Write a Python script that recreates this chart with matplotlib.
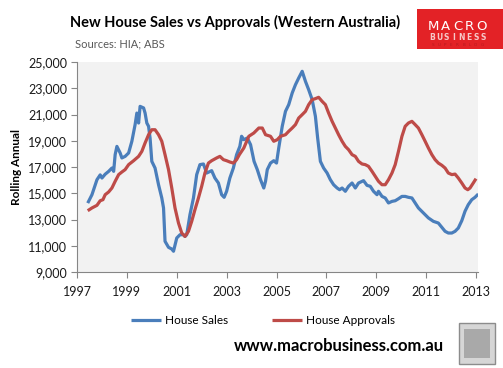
import matplotlib
matplotlib.use("Agg")
import matplotlib.pyplot as plt
from matplotlib.patches import Rectangle

plt.rcParams['font.family'] = ['Lato', 'DejaVu Sans']

# ---- data ----
sales_x = [1997.43, 1997.6, 1997.8, 1997.93, 1998.0, 1998.13, 1998.27, 1998.4, 1998.47, 1998.53, 1998.6,
           1998.73, 1998.8, 1998.93, 1999.07, 1999.2, 1999.33, 1999.4, 1999.47, 1999.53, 1999.67, 1999.73,
           1999.8, 1999.87, 1999.93, 2000.0, 2000.13, 2000.27, 2000.4, 2000.47, 2000.53, 2000.67, 2000.8,
           2000.87, 2001.0, 2001.13, 2001.27, 2001.33, 2001.4, 2001.53, 2001.67, 2001.8, 2001.93, 2002.07,
           2002.2, 2002.27, 2002.4, 2002.53, 2002.67, 2002.8, 2002.9, 2003.0, 2003.13, 2003.27, 2003.4,
           2003.53, 2003.6, 2003.69, 2003.83, 2003.96, 2004.1, 2004.23, 2004.36, 2004.49, 2004.56, 2004.63,
           2004.76, 2004.89, 2005.0, 2005.09, 2005.23, 2005.36, 2005.49, 2005.63, 2005.76, 2005.89, 2006.03,
           2006.16, 2006.29, 2006.43, 2006.56, 2006.65, 2006.76, 2006.89, 2007.03, 2007.16, 2007.29, 2007.43,
           2007.53, 2007.63, 2007.76, 2007.89, 2008.03, 2008.16, 2008.29, 2008.49, 2008.63, 2008.76, 2008.89,
           2009.03, 2009.09, 2009.23, 2009.36, 2009.49, 2009.63, 2009.76, 2009.89, 2010.03, 2010.16, 2010.29,
           2010.43, 2010.56, 2010.69, 2010.89, 2011.09, 2011.29, 2011.49, 2011.63, 2011.76, 2011.89, 2012.03,
           2012.16, 2012.29, 2012.43, 2012.56, 2012.69, 2012.83, 2012.96, 2013.09]
sales_y = [14250, 14890, 16030, 16400, 16160, 16450, 16670, 16920, 16670, 17940, 18570,
           18070, 17690, 17810, 18070, 18960, 20230, 21110, 20350, 21620, 21500, 21110,
           20350, 20100, 19210, 17430, 16920, 15650, 14640, 13880, 11340, 10880, 10750,
           10580, 11590, 11840, 11840, 11710, 11840, 13370, 14640, 16420, 17180, 17230,
           16540, 16600, 16720, 16160, 15780, 14890, 14690, 15150, 16160, 16920, 17940,
           18570, 19340, 19080, 19210, 18700, 17430, 16800, 16030, 15400, 15910, 16800,
           17300, 17480, 17300, 18450, 20100, 21240, 21750, 22640, 23270, 23780, 24290,
           23530, 22890, 22130, 20860, 19210, 17430, 16920, 16540, 16030, 15650, 15400,
           15270, 15400, 15150, 15530, 15780, 15400, 15780, 15960, 15600, 15530, 15150,
           14890, 15150, 14760, 14640, 14260, 14380, 14430, 14580, 14760, 14760, 14690,
           14640, 14260, 13880, 13500, 13120, 12860, 12730, 12400, 12100, 11970, 11970,
           12100, 12350, 12910, 13630, 14130, 14510, 14690, 14940]

appr_x = [1997.43, 1997.6, 1997.8, 1997.93, 1998.04, 1998.13, 1998.27, 1998.4, 1998.53, 1998.67, 1998.8,
          1998.93, 1999.07, 1999.27, 1999.47, 1999.6, 1999.73, 1999.87, 2000.0, 2000.13, 2000.27, 2000.4,
          2000.53, 2000.67, 2000.8, 2000.93, 2001.07, 2001.2, 2001.33, 2001.47, 2001.6, 2001.73, 2001.87,
          2002.0, 2002.13, 2002.27, 2002.4, 2002.6, 2002.73, 2002.87, 2003.0, 2003.13, 2003.27, 2003.4,
          2003.51, 2003.69, 2003.89, 2004.09, 2004.29, 2004.43, 2004.56, 2004.76, 2004.89, 2005.03, 2005.16,
          2005.36, 2005.49, 2005.63, 2005.76, 2005.89, 2006.03, 2006.16, 2006.29, 2006.43, 2006.56, 2006.69,
          2006.83, 2006.96, 2007.09, 2007.23, 2007.36, 2007.49, 2007.63, 2007.76, 2007.89, 2008.03, 2008.16,
          2008.29, 2008.43, 2008.56, 2008.69, 2008.83, 2008.96, 2009.09, 2009.23, 2009.36, 2009.49, 2009.63,
          2009.76, 2009.89, 2010.03, 2010.16, 2010.29, 2010.43, 2010.56, 2010.69, 2010.83, 2010.96, 2011.09,
          2011.23, 2011.36, 2011.49, 2011.63, 2011.76, 2011.89, 2012.03, 2012.16, 2012.29, 2012.43, 2012.56,
          2012.67, 2012.76, 2012.89, 2013.0]
appr_y = [13670, 13880, 14080, 14430, 14510, 14890, 15100, 15400, 15910, 16420, 16620,
          16800, 17180, 17480, 17810, 18190, 18830, 19460, 19840, 19840, 19460, 18960,
          17940, 16800, 15400, 13880, 12730, 11970, 11710, 12100, 12860, 13750, 14640,
          15530, 16540, 17300, 17480, 17690, 17810, 17560, 17480, 17380, 17300, 17560,
          17940, 18450, 19340, 19590, 19970, 19970, 19460, 19340, 18960, 19080, 19340,
          19460, 19720, 19970, 20230, 20730, 20990, 21240, 21750, 22130, 22210, 22310,
          22000, 21750, 21110, 20480, 19970, 19460, 18960, 18570, 18320, 17940, 17810,
          17430, 17230, 17180, 17050, 16670, 16290, 15910, 15650, 15650, 16030, 16540,
          17180, 18190, 19340, 20100, 20350, 20480, 20230, 19970, 19460, 18960, 18450,
          17940, 17560, 17300, 17130, 16920, 16540, 16420, 16460, 16160, 15780, 15400,
          15270, 15400, 15780, 16110]

year_ticks = [1997, 1999, 2001, 2003, 2005, 2007, 2009, 2011, 2013]
value_ticks = [9000, 11000, 13000, 15000, 17000, 19000, 21000, 23000, 25000]

W, H = 503, 368
fig = plt.figure(figsize=(W / 100, H / 100), dpi=100)
fig.patch.set_facecolor('white')

ax = fig.add_axes([77 / W, 1 - 272 / H, (478 - 77) / W, (272 - 62) / H])
ax.set_facecolor('#F2F2F2')

blue = '#4A7EBB'
red = '#BE4B48'
ax.plot(sales_x, sales_y, color=blue, lw=2.3, solid_capstyle='butt', label='House Sales')
ax.plot(appr_x, appr_y, color=red, lw=2.3, solid_capstyle='butt', label='House Approvals')

ax.set_xlim(1997, 2013.08)
ax.set_ylim(9000, 25000)
ax.set_xticks(year_ticks)
ax.set_xticklabels([str(y) for y in year_ticks])
ax.set_yticks(value_ticks)
ax.set_yticklabels([f"{v:,}" for v in value_ticks])

for s in ['top', 'right']:
    ax.spines[s].set_visible(False)
for s in ['left', 'bottom']:
    ax.spines[s].set_color('#868686')
    ax.spines[s].set_linewidth(0.8)
ax.tick_params(axis='both', colors='#868686', labelcolor='#1a1a1a', labelsize=9, length=4, width=0.8)
ax.tick_params(axis='x', pad=6)
ax.tick_params(axis='y', pad=3)

fig.text(17 / W, 1 - 167 / H, 'Rolling Annual', rotation=90, ha='center', va='center',
         fontsize=8.5, fontweight='bold', color='black')

fig.text(235 / W, 1 - 22 / H, 'New House Sales vs Approvals (Western Australia)',
         ha='center', va='center', fontsize=10.5, fontweight='bold', color='black')
fig.text(75 / W, 1 - 44 / H, 'Sources: HIA; ABS', ha='left', va='center', fontsize=8, color='#595959')

# legend
leg = fig.legend(loc='center', bbox_to_anchor=(263 / W, 1 - 321 / H), ncol=2, frameon=False,
                 fontsize=8.5, handlelength=2.5, handletextpad=0.3, columnspacing=3.8)

fig.text(339 / W, 1 - 346 / H, 'www.macrobusiness.com.au', ha='center', va='center',
         fontsize=12, fontweight='bold', color='black')

# logo box
fig.patches.append(Rectangle((417 / W, 1 - 49 / H), (503 - 417) / W, 40 / H,
                             transform=fig.transFigure, facecolor='#E32226', edgecolor='none'))


def spaced(word, x0, x1, y, **kw):
    n = len(word)
    for i, ch in enumerate(word):
        xx = x0 + (x1 - x0) * (i + 0.5) / n
        fig.text(xx / W, 1 - y / H, ch, ha='center', va='center', **kw)


spaced('MACRO', 428, 487, 26, fontsize=9.5, color='white', family=['DejaVu Sans'])
spaced('BUSINESS', 428, 487, 37, fontsize=5.5, color='#F6C8C8', family=['DejaVu Sans'],
       fontweight='bold')
spaced('SUPERBLOG', 430, 485, 44.5, fontsize=3, color='#B51B1F', family=['DejaVu Sans'])

# wolf image placeholder box
fig.patches.append(Rectangle((459 / W, 1 - 364 / H), 36 / W, 41 / H,
                             transform=fig.transFigure, facecolor='#D6D6D6', edgecolor='#8C8C8C', lw=1))
fig.patches.append(Rectangle((464 / W, 1 - 358 / H), 26 / W, 29 / H,
                             transform=fig.transFigure, facecolor='#A9A9A9', edgecolor='none'))

fig.savefig('out.png', dpi=100, facecolor='white')
